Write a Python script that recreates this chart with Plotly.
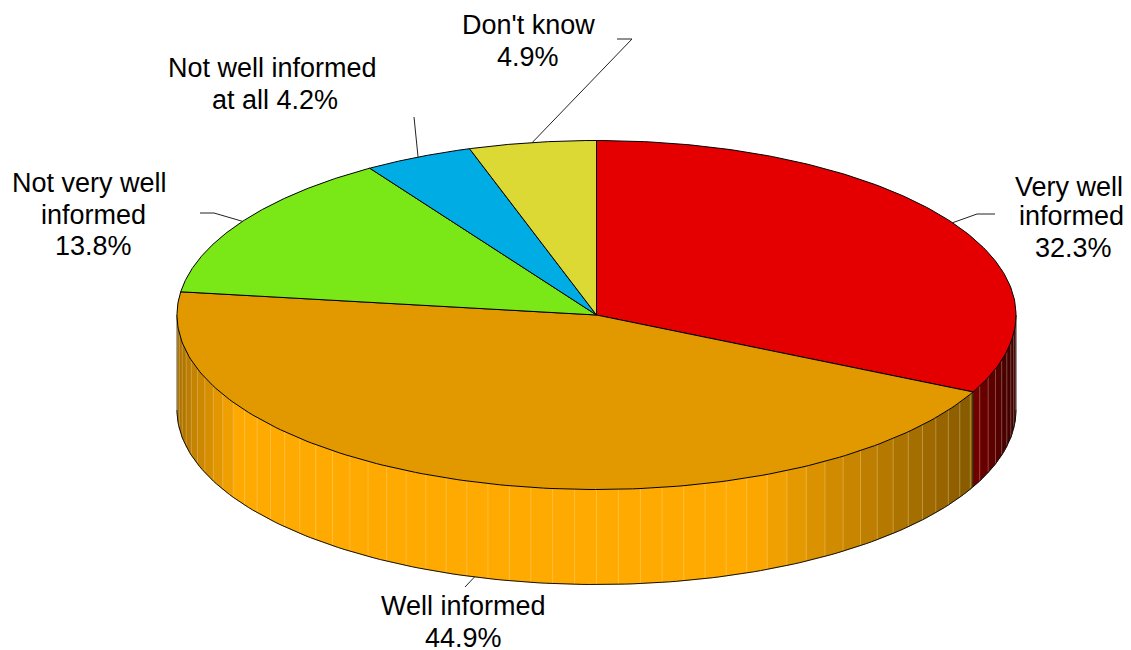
import numpy as np
import plotly.graph_objects as go

# --- data -----------------------------------------------------------------
categories = ["Very well informed", "Well informed", "Not very well informed",
              "Not well informed at all", "Don't know"]
values = [32.3, 44.9, 13.8, 4.2, 4.9]
label_lines = [["Very well", "informed", "32.3%"],
               ["Well informed", "44.9%"],
               ["Not very well", "informed", "13.8%"],
               ["Not well informed", "at all 4.2%"],
               ["Don't know", "4.9%"]]

# --- styles / geometry ----------------------------------------------------
top_colors = [(228, 0, 0), (226, 153, 0), (122, 232, 22), (0, 172, 228), (220, 216, 52)]
side_colors = [(228, 0, 0), (255, 170, 0), (122, 232, 22), (0, 172, 228), (220, 216, 52)]
CX, CY, RX, RY, DEPTH = 596.5, 315.0, 419.5, 174.5, 95.0
STRIP_DEG = 3.0
shade_x = [177, 190, 240, 750, 972, 1016]
shade_f = [0.65, 0.75, 1.0, 1.0, 0.53, 0.25]
label_xy = [[(1069, 187), (1071, 216), (1073, 248)],
            [(463, 606), (463, 638)],
            [(89, 183), (93, 215), (93, 246)],
            [(272, 68), (275, 100)],
            [(528, 25), (528, 57)]]
leader_via = [[(977, 214), (995, 214)],
              [(465, 587)],
              [(214, 213), (200, 213)],
              [(414, 117)],
              [(632, 39), (617, 39)]]
FONT = "Liberation Sans, Arial, sans-serif"


def ex(t):
    return CX + RX * np.sin(np.radians(t))


def ey(t):
    return CY - RY * np.cos(np.radians(t))


total = sum(values)
edges = np.concatenate([[0.0], np.cumsum(values)]) / total * 360.0
fig = go.Figure()

# side wall strips (visible front half only)
seam_x, seam_y = [], []
for i in range(len(values)):
    a0, a1 = max(edges[i], 90.0), min(edges[i + 1], 270.0)
    if a1 <= a0:
        continue
    stops = np.arange(90.0, 270.0 + STRIP_DEG, STRIP_DEG)
    cuts = np.unique(np.concatenate([[a0, a1], stops[(stops > a0) & (stops < a1)]]))
    for s0, s1 in zip(cuts[:-1], cuts[1:]):
        ts = np.linspace(s0, s1, 6)
        xs = ex(ts)
        f = float(np.interp(xs.mean(), shade_x, shade_f))
        col = "rgb(%d,%d,%d)" % tuple(int(c * f) for c in side_colors[i])
        px = np.concatenate([xs, xs[::-1], xs[:1]])
        py = np.concatenate([ey(ts), ey(ts[::-1]) + DEPTH, ey(ts[:1])])
        fig.add_trace(go.Scatter(x=px, y=py, mode="lines", fill="toself", fillcolor=col,
                                 line=dict(color=col, width=0.6), hoverinfo="skip",
                                 showlegend=False))
        seam_x += [float(ex(s1)), float(ex(s1)), None]
        seam_y += [float(ey(s1)), float(ey(s1)) + DEPTH, None]

fig.add_trace(go.Scatter(x=seam_x, y=seam_y, mode="lines",
                         line=dict(color="rgba(255,235,190,0.28)", width=1),
                         hoverinfo="skip", showlegend=False))

# bottom outline and wall divider
tb = np.linspace(90, 270, 181)
fig.add_trace(go.Scatter(x=ex(tb), y=ey(tb) + DEPTH, mode="lines",
                         line=dict(color="#111111", width=1), hoverinfo="skip", showlegend=False))
for e in edges[1:-1]:
    if 90 < e < 270:
        fig.add_trace(go.Scatter(x=[ex(e), ex(e)], y=[ey(e), ey(e) + DEPTH], mode="lines",
                                 line=dict(color="black", width=1), hoverinfo="skip",
                                 showlegend=False))
for e in (90.0, 270.0):
    fig.add_trace(go.Scatter(x=[ex(e), ex(e)], y=[ey(e), ey(e) + DEPTH], mode="lines",
                             line=dict(color="rgba(60,60,60,0.6)", width=1),
                             hoverinfo="skip", showlegend=False))

# top slices
for i, name in enumerate(categories):
    ts = np.linspace(edges[i], edges[i + 1], 160)
    px = np.concatenate([[CX], ex(ts), [CX]])
    py = np.concatenate([[CY], ey(ts), [CY]])
    fig.add_trace(go.Scatter(x=px, y=py, mode="lines", fill="toself",
                             fillcolor="rgb(%d,%d,%d)" % top_colors[i],
                             line=dict(color="black", width=1), name=name,
                             text=f"{name}: {values[i]}%", hoverinfo="text", showlegend=False))

# leader lines from slice midpoints, and labels
annotations = []
for i in range(len(values)):
    mid = (edges[i] + edges[i + 1]) / 2
    on_wall = 90 < mid < 270
    sx, sy = float(ex(mid)), float(ey(mid)) + (DEPTH if on_wall else 0)
    lx = [sx] + [p[0] for p in leader_via[i]]
    ly = [sy] + [p[1] for p in leader_via[i]]
    fig.add_trace(go.Scatter(x=lx, y=ly, mode="lines", line=dict(color="#222222", width=1),
                             hoverinfo="skip", showlegend=False))
    for text, (x, y) in zip(label_lines[i], label_xy[i]):
        annotations.append(dict(x=x, y=y, text=text, showarrow=False, xanchor="center",
                                yanchor="middle", xref="x", yref="y",
                                font=dict(family=FONT, size=27, color="black")))

fig.update_layout(
    width=1131, height=650, autosize=False,
    margin=dict(l=0, r=0, t=0, b=0),
    paper_bgcolor="white", plot_bgcolor="white",
    xaxis=dict(range=[0, 1131], visible=False, fixedrange=True),
    yaxis=dict(range=[650, 0], visible=False, fixedrange=True),
    annotations=annotations, showlegend=False,
)
fig.write_html("out.html", config={"displayModeBar": False},
               post_script="document.body.style.margin='0';document.body.style.overflow='hidden';")
